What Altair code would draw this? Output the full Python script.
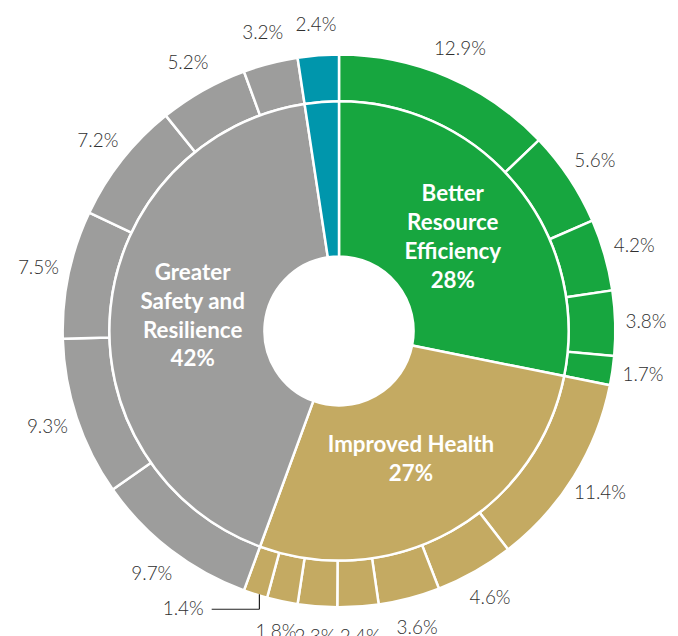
import altair as alt
import pandas as pd

# ---------------- data ----------------
groups = ["Better Resource Efficiency", "Improved Health",
          "Greater Safety and Resilience", "Other"]
group_labels = ["Better\nResource\nEfficiency\n28%", "Improved Health\n27%",
                "Greater\nSafety and\nResilience\n42%", ""]
group_colors = ["#17A63F", "#C4AA62", "#9D9D9C", "#0096AC"]

green_values = [12.9, 5.6, 4.2, 3.8, 1.7]
tan_values = [11.4, 4.6, 3.6, 2.4, 2.3, 1.8, 1.4]
gray_values = [9.7, 9.3, 7.5, 7.2, 5.2, 3.2]
teal_values = [2.4]
callout_label = "1.4%"   # the label drawn with a leader line

# ---------------- tables ----------------
children = [green_values, tan_values, gray_values, teal_values]
outer_rows, inner_rows = [], []
idx = 0
cum = 0.0
total = sum(sum(c) for c in children)
for g, lab, vals in zip(groups, group_labels, children):
    inner_rows.append({"group": g, "value": sum(vals), "label": lab,
                       "nlines": lab.count("\n") + 1, "idx": len(inner_rows)})
    for v in vals:
        txt = f"{v}%"
        outer_rows.append({
            "group": g, "value": v, "idx": idx,
            "label": "" if txt == callout_label else txt,
            "callout": txt == callout_label,
            "mid": (cum + v / 2) / total,
        })
        cum += v
        idx += 1
outer = pd.DataFrame(outer_rows)
inner = pd.DataFrame(inner_rows)
callout = outer[outer["callout"]].assign(text=callout_label)

# ---------------- layout ----------------
W, H = 666, 628
CX, CY = 333, 323
R_OUT, R_MID, R_IN = 278, 231, 75
FONT = "Lato"
LINE_H = 29

color = alt.Color("group:N", scale=alt.Scale(domain=groups, range=group_colors), legend=None)
theta = alt.Theta("value:Q", stack=True)
order = alt.Order("idx:Q", sort="ascending")
cx, cy = alt.value(CX), alt.value(CY)

outer_base = alt.Chart(outer).encode(theta=theta, order=order, x=cx, y=cy)
inner_base = alt.Chart(inner).encode(theta=theta, order=order, x=cx, y=cy)

outer_ring = outer_base.mark_arc(outerRadius=R_OUT, innerRadius=R_MID,
                                 stroke="white", strokeWidth=2.5).encode(color=color)
inner_ring = inner_base.mark_arc(outerRadius=R_MID, innerRadius=R_IN,
                                 stroke="white", strokeWidth=2.5).encode(color=color)

outer_text = outer_base.mark_text(radius=309, font=FONT, fontWeight=300, fontSize=19,
                                  color="#2f2f2f").encode(text="label:N")

# one text layer per line count, so each multi-line block is centred on its anchor
inner_texts = []
for n in sorted(inner["nlines"].unique()):
    inner_texts.append(
        inner_base.transform_calculate(
            t=f"datum.nlines == {n} ? datum.label : ''"
        ).mark_text(radius=148, font=FONT, fontWeight="bold", fontSize=22.5,
                    color="white", lineBreak="\n", lineHeight=LINE_H,
                    baseline="middle", dy=-(n - 1) * LINE_H / 2).encode(text="t:N")
    )

# callout for the 1.4% slice (positions derived from the slice's mid angle)
lead = alt.Chart(callout).transform_calculate(
    ang="2*PI*datum.mid",
    px=f"{CX} + {R_OUT}*sin(datum.ang) + 4",
    py=f"{CY} - {R_OUT}*cos(datum.ang)",
    py2="datum.py + 15",
    px2="datum.px - 48",
    tx="datum.px - 56",
)
xs = lambda f: alt.X(f, scale=None, axis=None)
ys = lambda f: alt.Y(f, scale=None, axis=None)
lead_v = lead.mark_rule(color="#222222", strokeWidth=1.2).encode(
    x=xs("px:Q"), y=ys("py:Q"), y2="py2:Q")
lead_h = lead.mark_rule(color="#222222", strokeWidth=1.2).encode(
    x=xs("px:Q"), x2="px2:Q", y=ys("py2:Q"))
lead_t = lead.mark_text(font=FONT, fontWeight=300, fontSize=19, color="#2f2f2f",
                        align="right", baseline="middle").encode(
    x=xs("tx:Q"), y=ys("py2:Q"), text="text:N")

chart = alt.layer(outer_ring, inner_ring, outer_text, *inner_texts,
                  lead_v, lead_h, lead_t).properties(
    width=W, height=H, padding=0,
    autosize=alt.AutoSizeParams(type="none"),
).configure_view(stroke=None)

chart.save("out.html", embed_options={"renderer": "svg", "actions": False})
